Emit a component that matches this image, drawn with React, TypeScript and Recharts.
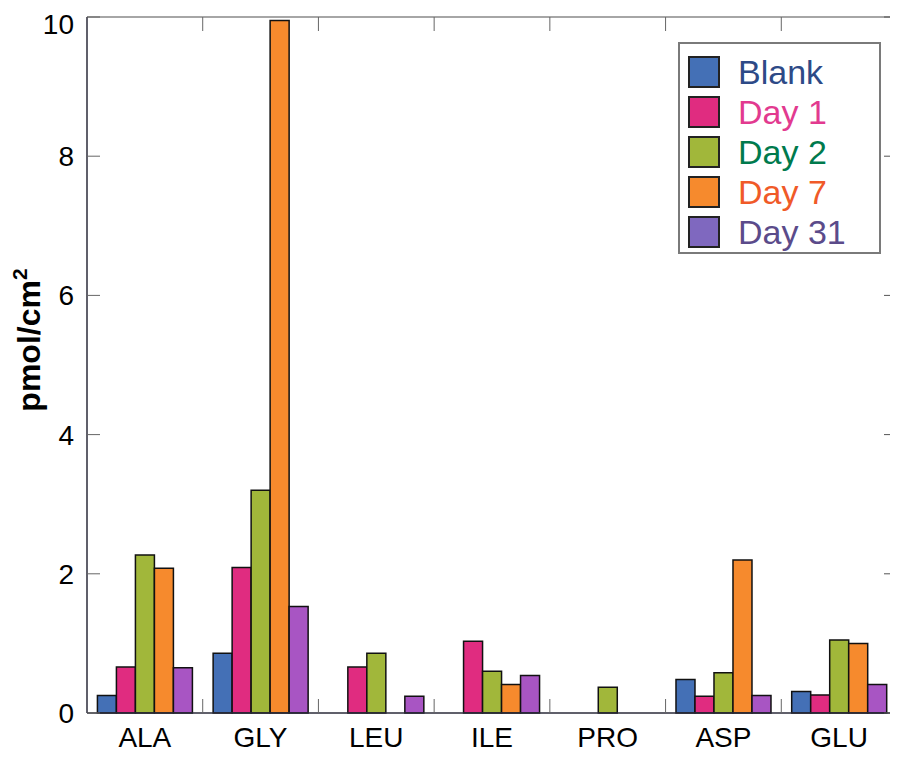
import { BarChart, Bar, XAxis, YAxis, Legend } from 'recharts'

const categories = ['ALA', 'GLY', 'LEU', 'ILE', 'PRO', 'ASP', 'GLU']
const blank = [0.25, 0.86, null, null, null, 0.48, 0.31]
const day1 = [0.66, 2.09, 0.66, 1.03, null, 0.24, 0.26]
const day2 = [2.27, 3.2, 0.86, 0.6, 0.37, 0.58, 1.05]
const day7 = [2.08, 9.95, null, 0.41, null, 2.2, 1.0]
const day31 = [0.65, 1.53, 0.24, 0.54, null, 0.25, 0.41]
const yTicks = [0, 2, 4, 6, 8, 10]

const seriesNames = ['Blank', 'Day 1', 'Day 2', 'Day 7', 'Day 31']
const seriesKeys = ['blank', 'day1', 'day2', 'day7', 'day31']
const barColors = ['#4470b6', '#e02c80', '#a1b73a', '#f68a2d', '#a855c3']
const swatchColors = ['#4470b6', '#e02c80', '#a1b73a', '#f68a2d', '#7f68bf']
const textColors = ['#2d4a87', '#e23a8f', '#007a4d', '#f05a28', '#5b4b8a']

const FONT = '"Liberation Sans", Arial, sans-serif'

const data = categories.map((name, i) => ({
  name,
  blank: blank[i],
  day1: day1[i],
  day2: day2[i],
  day7: day7[i],
  day31: day31[i],
}))

// category label plus a short inner tick at the right edge of each band
function BottomTick(props: any) {
  const { x, y, payload, index, visibleTicksCount } = props
  const off = payload.offset ?? 0
  return (
    <g>
      <text x={x} y={y + 34} textAnchor="middle" fontSize={28} fontFamily={FONT} fill="#000">
        {payload.value}
      </text>
      {index < visibleTicksCount - 1 && (
        <line x1={x + off} x2={x + off} y1={y} y2={y - 14} stroke="#666" strokeWidth={1} />
      )}
    </g>
  )
}

function TopTick(props: any) {
  const { x, y, payload, index, visibleTicksCount } = props
  const off = payload.offset ?? 0
  if (index >= visibleTicksCount - 1) return <g />
  return <line x1={x + off} x2={x + off} y1={y} y2={y + 14} stroke="#666" strokeWidth={1} />
}

function YLabel(props: any) {
  const { viewBox } = props
  const cx = viewBox.x + 21
  const cy = viewBox.y + viewBox.height / 2 - 25
  return (
    <text
      x={cx}
      y={cy}
      transform={`rotate(-90 ${cx} ${cy})`}
      textAnchor="middle"
      dominantBaseline="central"
      fontSize={32}
      fontWeight="bold"
      fontFamily={FONT}
      fill="#000"
    >
      pmol/cm
      <tspan fontSize={21} dy={-10}>2</tspan>
    </text>
  )
}

function LegendBox() {
  return (
    <div
      style={{
        width: 203,
        height: 212,
        border: '2px solid #7a7a7a',
        background: '#fff',
        padding: '8px 0 0 8px',
        boxSizing: 'border-box',
        fontFamily: FONT,
      }}
    >
      {seriesNames.map((n, i) => (
        <div key={n} style={{ display: 'flex', alignItems: 'center', height: 40 }}>
          <div
            style={{
              width: 32,
              height: 32,
              boxSizing: 'border-box',
              border: '2px solid #222',
              background: swatchColors[i],
              marginRight: 18,
            }}
          />
          <span style={{ fontSize: 34, color: textColors[i], lineHeight: '40px' }}>{n}</span>
        </div>
      ))}
    </div>
  )
}

export default function App() {
  return (
    <div style={{ width: 890, height: 745 }}>
      <BarChart
        width={890}
        height={745}
        data={data}
        margin={{ top: 8, right: 0, left: 0, bottom: 0 }}
        barCategoryGap="9%"
        barGap={0}
      >
        <XAxis
          dataKey="name"
          height={40}
          tickSize={0}
          tickMargin={0}
          tickLine={false}
          tick={BottomTick}
          axisLine={{ stroke: '#2b2b3a', strokeWidth: 1.5 }}
        />
        <XAxis
          xAxisId="top"
          dataKey="name"
          orientation="top"
          height={1}
          tickSize={0}
          tickMargin={0}
          tickLine={false}
          tick={TopTick}
          axisLine={{ stroke: '#888', strokeWidth: 1.5 }}
        />
        <YAxis
          width={79}
          domain={[0, 10]}
          ticks={yTicks}
          tickSize={-13}
          tickMargin={26}
          tick={{ fontSize: 28, fill: '#000', fontFamily: FONT }}
          tickLine={{ stroke: '#666' }}
          axisLine={{ stroke: '#2b2b3a', strokeWidth: 1.5 }}
          label={<YLabel />}
        />
        <YAxis
          yAxisId="right"
          orientation="right"
          width={1}
          domain={[0, 10]}
          allowDataOverflow
          ticks={yTicks}
          tickSize={-13}
          tick={() => <g />}
          tickLine={{ stroke: '#555' }}
          axisLine={{ stroke: '#888', strokeWidth: 1.5 }}
        />
        <Legend
          layout="horizontal"
          verticalAlign="middle"
          align="center"
          content={() => <LegendBox />}
          wrapperStyle={{ position: 'absolute', left: 670, top: 34, width: 'auto' }}
        />
        {seriesKeys.map((k, i) => (
          <Bar
            key={k}
            dataKey={k}
            name={seriesNames[i]}
            fill={barColors[i]}
            stroke="#111"
            strokeWidth={1.5}
            isAnimationActive={false}
          />
        ))}
      </BarChart>
    </div>
  )
}
